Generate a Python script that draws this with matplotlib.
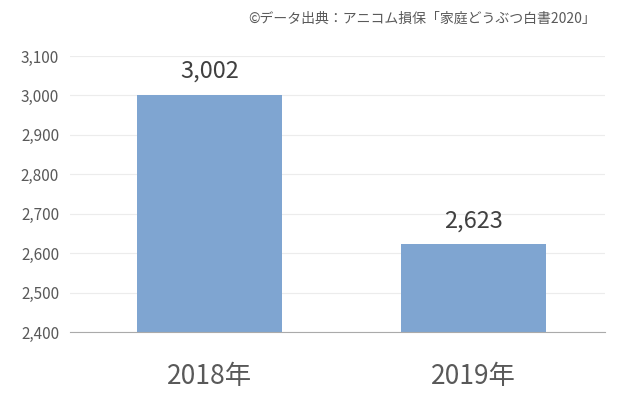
import matplotlib
matplotlib.use('Agg')
from matplotlib import pyplot as plt

plt.rcParams['font.family'] = ['Noto Sans CJK JP', 'DejaVu Sans']

categories = ['2018年', '2019年']
values = [3002, 2623]
yticks = [2400, 2500, 2600, 2700, 2800, 2900, 3000, 3100]
source = '©データ出典：アニコム損保「家庭どうぶつ白書2020」'

fig = plt.figure(figsize=(6.27, 4.09), dpi=100)
ax = fig.add_axes([0.112, 0.188, 0.853, 0.675])
ax.bar([0, 1], values, width=0.55, color='#7fa5d1', zorder=2)
ax.set_xlim(-0.53, 1.5)
ax.set_ylim(2400, 3100)
ax.set_yticks(yticks)
ax.set_yticklabels([f'{v:,}' for v in yticks], fontsize=11, color='#595959')
ax.set_xticks([0, 1])
ax.set_xticklabels(categories, fontsize=19, color='#595959')
ax.tick_params(length=0)
ax.tick_params(axis='x', pad=22)
ax.tick_params(axis='y', pad=8)
ax.grid(axis='y', color='#ececec', lw=0.8, zorder=0)
for s in ['top', 'right', 'left']:
    ax.spines[s].set_visible(False)
ax.spines['bottom'].set_color('#aaaaaa')
for i, v in enumerate(values):
    ax.text(i, v + 30, f'{v:,}', ha='center', va='bottom', fontsize=17, color='#404040')
fig.text(0.95, 0.955, source, ha='right', va='center', fontsize=10, color='#595959')
fig.savefig('out.png')
